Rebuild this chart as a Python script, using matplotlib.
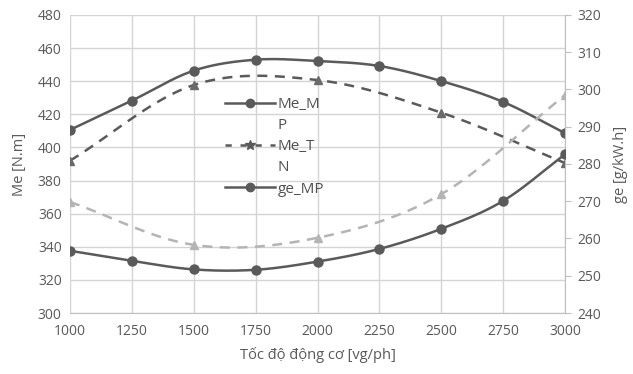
import numpy as np
import matplotlib
matplotlib.use("Agg")
import matplotlib.pyplot as plt
from matplotlib.lines import Line2D

plt.rcParams['font.family'] = ['Open Sans', 'DejaVu Sans']

rpm = [1000, 1250, 1500, 1750, 2000, 2250, 2500, 2750, 3000]
me_mp = [410.6, 428.3, 446.4, 453.0, 452.2, 449.2, 440.1, 427.5, 408.6]
ge_mp = [256.7, 254.0, 251.7, 251.6, 253.8, 257.2, 262.6, 270.1, 282.6]

rpm_tn = [1000, 1500, 2000, 2500, 3000]
me_tn = [392.0, 437.7, 440.7, 421.0, 390.6]
ge_tn = [269.8, 258.3, 260.2, 271.9, 298.5]

xticks = [1000, 1250, 1500, 1750, 2000, 2250, 2500, 2750, 3000]
left_ticks = [300, 320, 340, 360, 380, 400, 420, 440, 460, 480]
right_ticks = [240, 250, 260, 270, 280, 290, 300, 310, 320]
legend_labels = ['Me_M', 'P', 'Me_T', 'N', 'ge_MP']

DARK = '#5a5a5a'
LIGHT = '#b4b4b4'
TXT = '#595959'


def smooth(x, y, n=30):
    # Catmull-Rom style smoothing (rendering of Excel "smoothed line")
    x = np.asarray(x, float); y = np.asarray(y, float)
    px = np.concatenate([[2 * x[0] - x[1]], x, [2 * x[-1] - x[-2]]])
    py = np.concatenate([[2 * y[0] - y[1]], y, [2 * y[-1] - y[-2]]])
    xs, ys = [], []
    t = np.linspace(0, 1, n)
    for i in range(1, len(px) - 2):
        for arr, out in ((px, xs), (py, ys)):
            p0, p1, p2, p3 = arr[i - 1], arr[i], arr[i + 1], arr[i + 2]
            out.append(0.5 * ((2 * p1) + (-p0 + p2) * t +
                              (2 * p0 - 5 * p1 + 4 * p2 - p3) * t ** 2 +
                              (-p0 + 3 * p1 - 3 * p2 + p3) * t ** 3))
    return np.concatenate(xs), np.concatenate(ys)


fig = plt.figure(figsize=(6.33, 3.74), dpi=100)
ax = fig.add_axes([0.1106, 0.1631, 0.7820, 0.7968])
ax2 = ax.twinx()

ax.set_xlim(1000, 3000)
ax.set_ylim(300, 480)
ax2.set_ylim(240, 320)
ax.set_xticks(xticks)
ax.set_yticks(left_ticks)
ax2.set_yticks(right_ticks)

ax.grid(True, color='#d4d4d4', linewidth=1.0)
ax.set_axisbelow(True)
for a in (ax, ax2):
    for s in a.spines.values():
        s.set_visible(False)
ax.spines['bottom'].set_visible(True)
ax.spines['bottom'].set_color('#bfbfbf')
ax2.spines['right'].set_visible(True)
ax2.spines['right'].set_color('#bfbfbf')

ax.tick_params(axis='both', length=0, labelsize=10, labelcolor=TXT, pad=6)
ax.tick_params(axis='x', pad=8)
ax2.tick_params(axis='y', length=4, color='#bfbfbf', labelsize=10, labelcolor=TXT, pad=5)

ms = 6.5
# Me_MP
sx, sy = smooth(rpm, me_mp)
ax.plot(sx, sy, color=DARK, lw=1.8, zorder=4)
ax.plot(rpm, me_mp, 'o', color=DARK, ms=ms, zorder=5)
# Me_TN
sx, sy = smooth(rpm_tn, me_tn)
ax.plot(sx, sy, color=DARK, lw=1.8, ls=(0, (4, 3)), zorder=4)
ax.plot(rpm_tn, me_tn, '^', color='#6a6a6a', ms=6, zorder=5)
# ge_MP
sx, sy = smooth(rpm, ge_mp)
ax2.plot(sx, sy, color=DARK, lw=1.8, zorder=4)
ax2.plot(rpm, ge_mp, 'o', color=DARK, ms=ms, zorder=5)
# ge_TN
sx, sy = smooth(rpm_tn, ge_tn)
ax2.plot(sx, sy, color=LIGHT, lw=1.8, ls=(0, (4, 3)), zorder=3)
ax2.plot(rpm_tn, ge_tn, '^', color=LIGHT, ms=6, zorder=3)

ax.set_ylabel('Me [N.m]', fontsize=10.5, color=TXT, labelpad=8)
ax2.set_ylabel('ge [g/kW.h]', fontsize=10.5, color=TXT, rotation=90, labelpad=8)
ax.set_xlabel('Tốc độ động cơ [vg/ph]', fontsize=10.5, color=TXT, labelpad=6)

blank = Line2D([], [], color='none', lw=0)
handles = [
    Line2D([], [], color=DARK, lw=1.8, marker='o', ms=6),
    blank,
    Line2D([], [], color=DARK, lw=1.8, ls=(0, (2.5, 3.5)), marker='*', ms=7),
    blank,
    Line2D([], [], color=DARK, lw=1.8, marker='o', ms=6),
]
leg = ax2.legend(handles, legend_labels, loc='upper left', bbox_to_anchor=(0.300, 0.745),
                 frameon=False, fontsize=11, handlelength=3.3, handletextpad=0.15,
                 labelspacing=0.4, borderaxespad=0)
for t in leg.get_texts():
    t.set_color('#505050')

fig.savefig('out.png', dpi=100)
